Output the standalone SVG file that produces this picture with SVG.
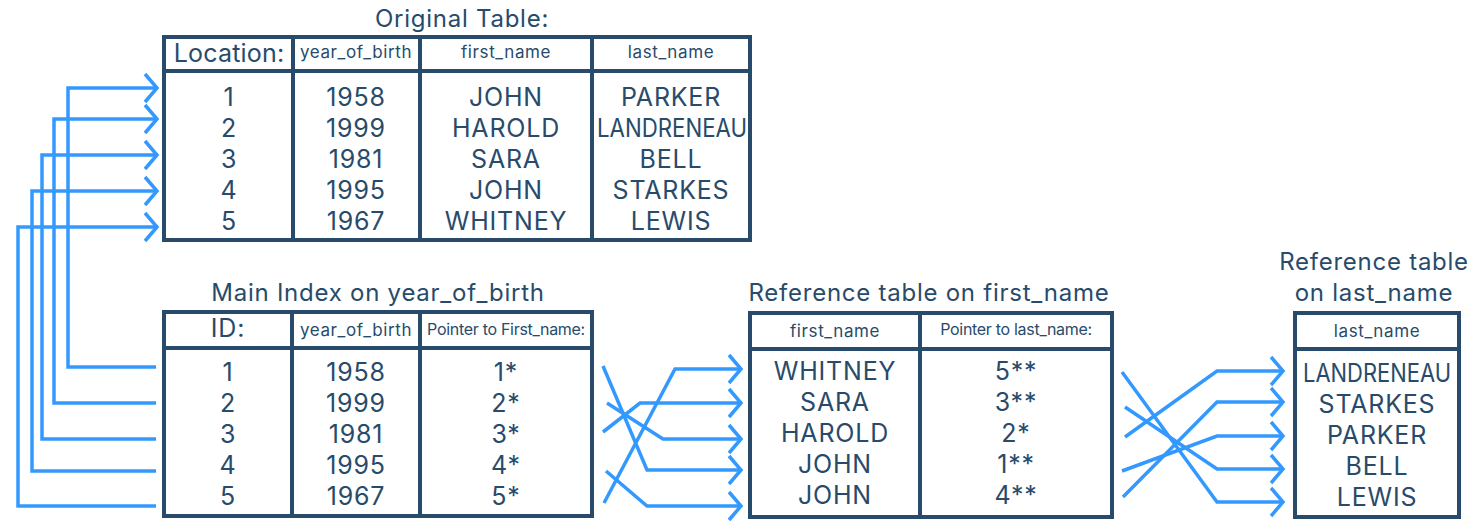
<svg xmlns="http://www.w3.org/2000/svg" width="1474" height="531" viewBox="0 0 1474 531">
<defs>
<marker id="chev" markerUnits="userSpaceOnUse" viewBox="-16 -16 20 32" refX="0" refY="0" markerWidth="20" markerHeight="32" orient="auto" overflow="visible">
<path d="M-12,-14 L0,0 L-12,14" fill="none" stroke="#3399ff" stroke-width="3.5"/>
</marker>
</defs>
<style>
.tb{fill:#fff;stroke:#284b6b;stroke-width:4}
.ln{stroke:#284b6b;stroke-width:4}
text{font-family:Inter,"Liberation Sans",sans-serif;fill:#284b6b;text-anchor:middle}
.t{font-size:24px;letter-spacing:0.75px}
.d{font-size:25px;letter-spacing:0.8px}
.loc{letter-spacing:0.2px}
.h{font-size:17px;letter-spacing:0.6px}
.p{font-size:16px;letter-spacing:-0.3px}
.c{fill:none;stroke:#3399ff;stroke-width:3.5;marker-end:url(#chev)}
</style>
<rect width="1474" height="531" fill="#fff"/>

<g id="original-table">
<text class="t" x="462" y="27">Original Table:</text>
<rect class="tb" x="164" y="37" width="586" height="203"/>
<line class="ln" x1="164" y1="71" x2="750" y2="71"/>
<line class="ln" x1="293" y1="37" x2="293" y2="240"/>
<line class="ln" x1="420" y1="37" x2="420" y2="240"/>
<line class="ln" x1="592" y1="37" x2="592" y2="240"/>
<text class="d loc" x="229" y="62">Location:</text>
<text class="h" x="356" y="58">year_of_birth</text>
<text class="h" x="506" y="58">first_name</text>
<text class="h" x="671" y="58">last_name</text>
<text class="d" x="229" y="106">1</text>
<text class="d" x="229" y="137">2</text>
<text class="d" x="229" y="168">3</text>
<text class="d" x="229" y="199">4</text>
<text class="d" x="229" y="230">5</text>
<text class="d" x="356" y="106">1958</text>
<text class="d" x="356" y="137">1999</text>
<text class="d" x="356" y="168">1981</text>
<text class="d" x="356" y="199">1995</text>
<text class="d" x="356" y="230">1967</text>
<text class="d" x="506" y="106">JOHN</text>
<text class="d" x="506" y="137">HAROLD</text>
<text class="d" x="506" y="168">SARA</text>
<text class="d" x="506" y="199">JOHN</text>
<text class="d" x="506" y="230">WHITNEY</text>
<text class="d" x="671" y="106">PARKER</text>
<text class="d" x="672" y="137" textLength="150" lengthAdjust="spacingAndGlyphs" style="letter-spacing:0">LANDRENEAU</text>
<text class="d" x="671" y="168">BELL</text>
<text class="d" x="671" y="199">STARKES</text>
<text class="d" x="671" y="230">LEWIS</text>
</g>

<g id="main-index">
<text class="t" x="378" y="301">Main Index on year_of_birth</text>
<rect class="tb" x="164" y="312" width="428" height="204"/>
<line class="ln" x1="164" y1="348" x2="592" y2="348"/>
<line class="ln" x1="292" y1="312" x2="292" y2="516"/>
<line class="ln" x1="420" y1="312" x2="420" y2="516"/>
<text class="d" x="228" y="337">ID:</text>
<text class="h" x="356" y="336">year_of_birth</text>
<text class="p" x="506" y="335">Pointer to First_name:</text>
<text class="d" x="228" y="381">1</text>
<text class="d" x="228" y="412">2</text>
<text class="d" x="228" y="443">3</text>
<text class="d" x="228" y="474">4</text>
<text class="d" x="228" y="505">5</text>
<text class="d" x="356" y="381">1958</text>
<text class="d" x="356" y="412">1999</text>
<text class="d" x="356" y="443">1981</text>
<text class="d" x="356" y="474">1995</text>
<text class="d" x="356" y="505">1967</text>
<text class="d" x="506" y="381">1*</text>
<text class="d" x="506" y="412">2*</text>
<text class="d" x="506" y="443">3*</text>
<text class="d" x="506" y="474">4*</text>
<text class="d" x="506" y="505">5*</text>
</g>

<g id="ref-first-name">
<text class="t" x="929" y="301">Reference table on first_name</text>
<rect class="tb" x="750" y="313" width="362" height="204"/>
<line class="ln" x1="750" y1="349" x2="1112" y2="349"/>
<line class="ln" x1="920" y1="313" x2="920" y2="517"/>
<text class="h" x="835" y="337">first_name</text>
<text class="p" x="1016" y="335">Pointer to last_name:</text>
<text class="d" x="835" y="380">WHITNEY</text>
<text class="d" x="835" y="411">SARA</text>
<text class="d" x="835" y="442">HAROLD</text>
<text class="d" x="835" y="473">JOHN</text>
<text class="d" x="835" y="504">JOHN</text>
<text class="d" x="1016" y="380">5**</text>
<text class="d" x="1016" y="411">3**</text>
<text class="d" x="1016" y="442">2*</text>
<text class="d" x="1016" y="473">1**</text>
<text class="d" x="1016" y="504">4**</text>
</g>

<g id="ref-last-name">
<text class="t" x="1374" y="270">Reference table</text>
<text class="t" x="1374" y="301">on last_name</text>
<rect class="tb" x="1295" y="313" width="164" height="204"/>
<line class="ln" x1="1295" y1="349" x2="1459" y2="349"/>
<text class="h" x="1377" y="337">last_name</text>
<text class="d" x="1377" y="382" textLength="148" lengthAdjust="spacingAndGlyphs" style="letter-spacing:0">LANDRENEAU</text>
<text class="d" x="1377" y="413">STARKES</text>
<text class="d" x="1377" y="444">PARKER</text>
<text class="d" x="1377" y="475">BELL</text>
<text class="d" x="1377" y="506">LEWIS</text>
</g>

<g id="connectors">
<polyline class="c" points="156,367 68,367 68,88 157,88"/>
<polyline class="c" points="156,403 54,403 54,119 157,119"/>
<polyline class="c" points="156,439 42,439 42,155 157,155"/>
<polyline class="c" points="156,471 32,471 32,191 157,191"/>
<polyline class="c" points="156,506 18,506 18,227 157,227"/>

<polyline class="c" points="603,366 647,470 741,470"/>
<polyline class="c" points="607,403 663,439 741,439"/>
<polyline class="c" points="603,432 640,403 741,403"/>
<polyline class="c" points="606,471 647,506 741,506"/>
<polyline class="c" points="604,503 675,369 741,369"/>

<polyline class="c" points="1122,372 1217,502 1283,502"/>
<polyline class="c" points="1125,407 1217,469 1283,469"/>
<polyline class="c" points="1125,437 1217,371 1283,371"/>
<polyline class="c" points="1122,471 1217,436 1283,436"/>
<polyline class="c" points="1123,497 1217,402 1283,402"/>
</g>
</svg>
